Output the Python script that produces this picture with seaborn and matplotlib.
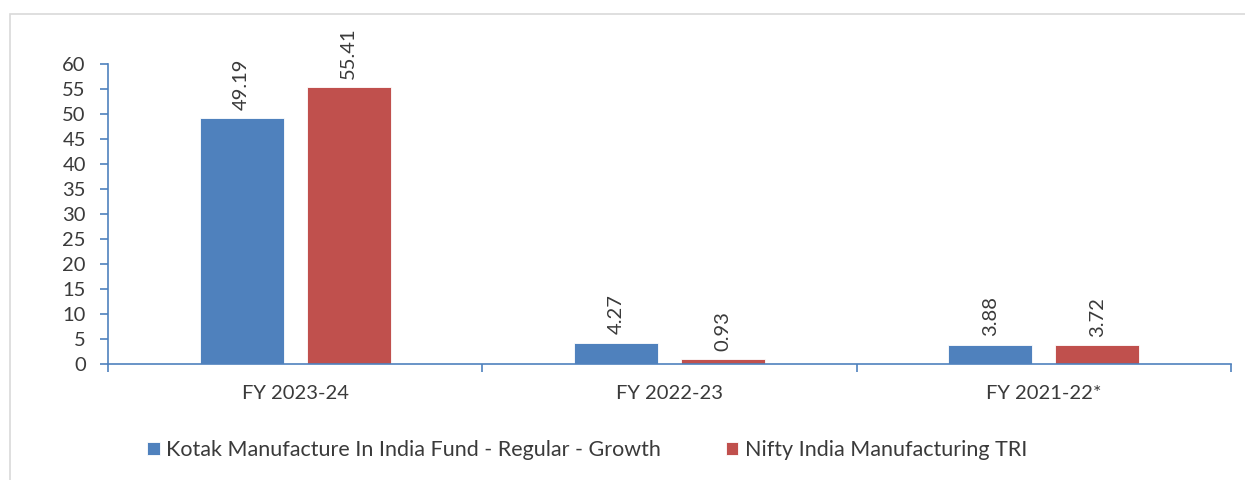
import pandas as pd
import seaborn as sns
import matplotlib.pyplot as plt
from matplotlib.patches import Rectangle

# ----------------- data

categories = ["FY 2023-24", "FY 2022-23", "FY 2021-22*"]
fund_name = "Kotak Manufacture In India Fund - Regular - Growth"
bench_name = "Nifty India Manufacturing TRI"
fund_values = [49.19, 4.27, 3.88]
bench_values = [55.41, 0.93, 3.72]
y_ticks = list(range(0, 65, 5))

df = pd.DataFrame({
    "period": categories * 2,
    "series": [fund_name] * len(categories) + [bench_name] * len(categories),
    "value": fund_values + bench_values,
})

# ----------------- style

sns.set_style("white")
plt.rcParams["font.family"] = ["Lato", "DejaVu Sans"]
text_color = "#3A3A3A"
axis_color = "#4F81BD"
palette = {fund_name: "#4F81BD", bench_name: "#C0504D"}
fs = 14.5
legend_fs = 15.5

fig = plt.figure(figsize=(12.45, 4.8), dpi=100)
ax = fig.add_axes([108 / 1245, 1 - 364 / 480, (1231 - 108) / 1245, 300 / 480])

# light frame of the chart area
fig.patches.append(Rectangle((10 / 1245, -0.1), 1.2, 1 - 14 / 480 + 0.1,
                             transform=fig.transFigure, fill=False,
                             edgecolor="#D9D9D9", linewidth=1.2))

sns.barplot(data=df, x="period", y="value", hue="series", palette=palette,
            saturation=1, width=0.571, gap=0.215, edgecolor="white",
            linewidth=0.6, ax=ax, legend=True)

for cont in ax.containers:
    ax.bar_label(cont, fmt="%.2f", rotation=90, padding=6,
                 fontsize=fs, color=text_color)

# ----------------- axes

ax.set_ylim(0, 60)
ax.set_xlim(-0.5, len(categories) - 0.5)
ax.set_yticks(y_ticks)
ax.set_xlabel("")
ax.set_ylabel("")

for side in ["top", "right"]:
    ax.spines[side].set_visible(False)
for side in ["left", "bottom"]:
    ax.spines[side].set_color(axis_color)
    ax.spines[side].set_linewidth(1.2)

ax.tick_params(axis="y", which="major", left=True, length=6, width=1.2,
               color=axis_color, labelsize=fs, labelcolor=text_color, pad=10)
ax.tick_params(axis="x", which="major", bottom=False, length=0,
               labelsize=fs, labelcolor=text_color, pad=15)
ax.set_xticks([i + 0.5 for i in range(-1, len(categories))], minor=True)
ax.tick_params(axis="x", which="minor", bottom=True, length=6, width=1.2,
               color=axis_color)

# ----------------- legend

handles, labels = ax.get_legend_handles_labels()
ax.get_legend().remove()
fig.legend(handles, labels, loc="center", bbox_to_anchor=(587 / 1245, 1 - 450 / 480),
           ncol=2, frameon=False, fontsize=legend_fs, labelcolor=text_color,
           handlelength=0.6, handleheight=0.6, handletextpad=0.3,
           columnspacing=3.0, borderaxespad=0)

fig.savefig("out.png", dpi=100)
